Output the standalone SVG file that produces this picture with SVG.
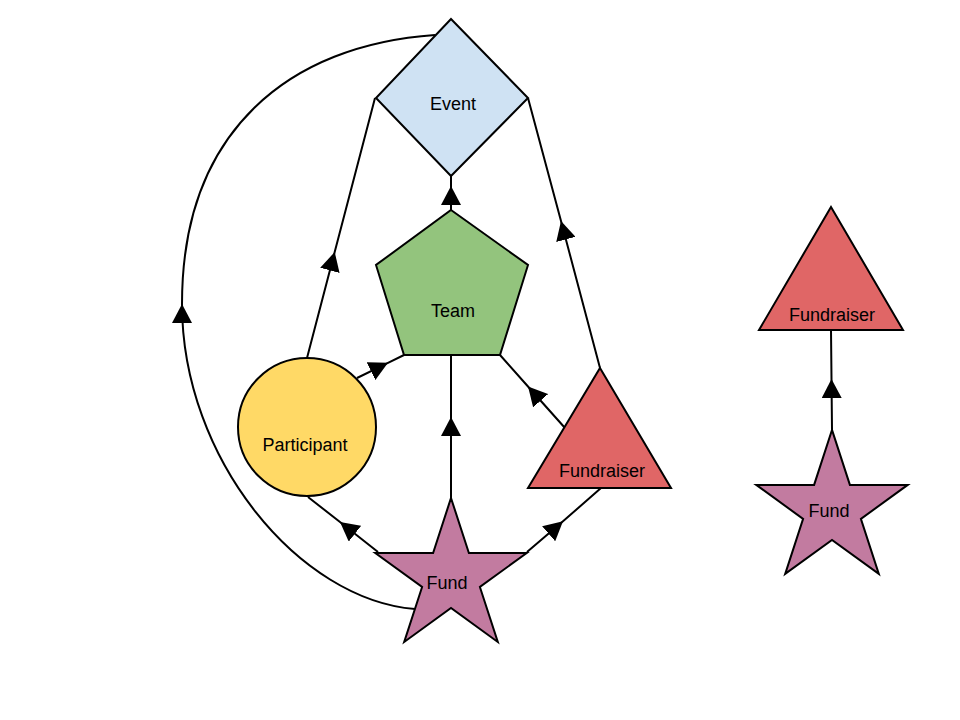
<svg xmlns="http://www.w3.org/2000/svg" width="960" height="720" viewBox="0 0 960 720">
<style>
.shape{stroke:#000;stroke-width:2;stroke-linejoin:miter}
.edge{fill:none;stroke:#000;stroke-width:2;marker-mid:url(#arr)}
.label{font-family:"Liberation Sans",Arial,sans-serif;font-size:18px;fill:#000;text-anchor:middle}
</style>
<defs>
<marker id="arr" viewBox="-19 -10 19 20" refX="0" refY="0" markerWidth="19" markerHeight="20" markerUnits="userSpaceOnUse" orient="auto">
<path d="M0,0 L-19,-10 L-19,10 Z" fill="#000"/>
</marker>
<polygon id="star" points="0,-79.6 17.9,-24.6 75.7,-24.6 28.9,9.4 46.8,64.4 0,30.4 -46.8,64.4 -28.9,9.4 -75.7,-24.6 -17.9,-24.6"/>
</defs>
<rect width="960" height="720" fill="#fff"/>
<g id="connectors">
<path class="edge" d="M451,210 L451,186 L451,176"/>
<path class="edge" d="M307,358 L334.7,252 L375,98"/>
<path class="edge" d="M600,368 L561,221 L528,98"/>
<path class="edge" d="M357,378 L388,362.8 L404,355"/>
<path class="edge" d="M451,498 L451,417 L451,355"/>
<path class="edge" d="M565,428 L528,386.5 L500,355"/>
<path class="edge" d="M378,552 L340,522 L308,497"/>
<path class="edge" d="M527,552 L563,521.3 L601,488"/>
<path class="edge" d="M415,609 C300,600 182,460 182,304 C182,130 290,45 435,35"/>
<path class="edge" d="M832,430 L831.5,379 L831,330"/>
</g>
<g id="event">
<polygon class="shape" fill="#cfe2f3" points="451,19 528,98 451,176 376,98"/>
<text class="label" x="453" y="110">Event</text>
</g>
<g id="team">
<polygon class="shape" fill="#93c47d" points="451,210 528,265 500,355 404,355 376,265"/>
<text class="label" x="453" y="317">Team</text>
</g>
<g id="participant">
<circle class="shape" fill="#ffd966" cx="307" cy="427" r="69"/>
<text class="label" x="305" y="451">Participant</text>
</g>
<g id="fundraiser1">
<polygon class="shape" fill="#e06666" points="600,368 671,488 528,488"/>
<text class="label" x="602" y="477">Fundraiser</text>
</g>
<g id="fund1">
<use href="#star" class="shape" fill="#c27ba0" transform="translate(451,577.6)"/>
<text class="label" x="447" y="589">Fund</text>
</g>
<g id="fundraiser2">
<polygon class="shape" fill="#e06666" points="831,207 903,330 759,330"/>
<text class="label" x="832" y="321">Fundraiser</text>
</g>
<g id="fund2">
<use href="#star" class="shape" fill="#c27ba0" transform="translate(832,509.5)"/>
<text class="label" x="829" y="517">Fund</text>
</g>
</svg>
